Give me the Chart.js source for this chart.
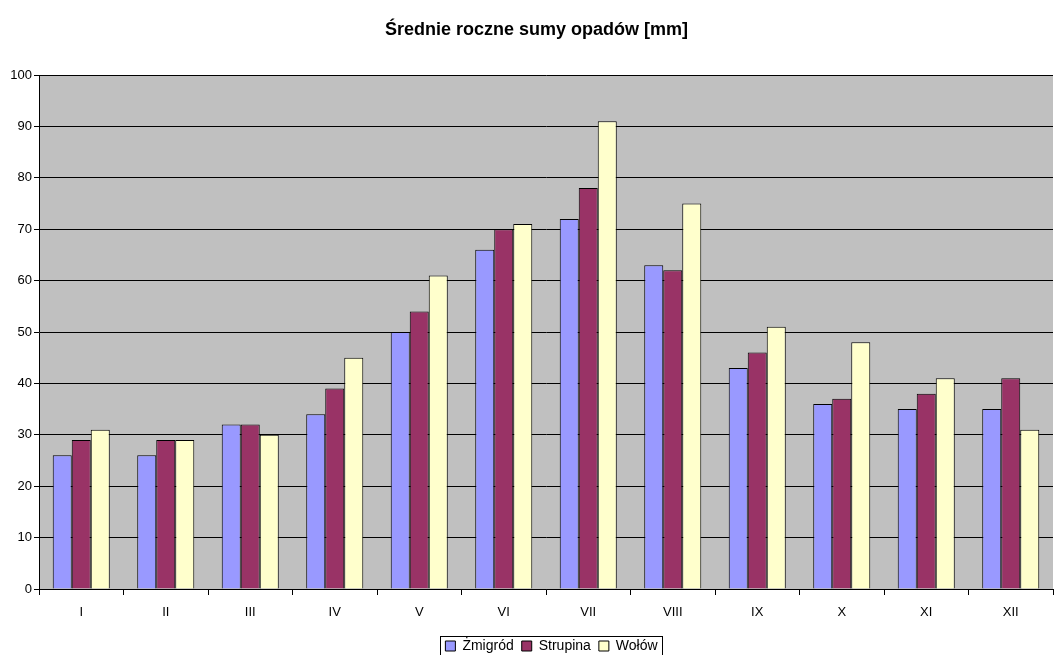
<!DOCTYPE html>
<html>
<head>
<meta charset="utf-8">
<script src="https://cdn.jsdelivr.net/npm/chart.js@4.4.1/dist/chart.umd.min.js"></script>
<style>
  html, body { margin: 0; padding: 0; background: #ffffff; }
  #wrap { width: 1054px; height: 655px; }
</style>
</head>
<body>
<div id="wrap"><canvas id="c" width="1054" height="655"></canvas></div>
<script>
const categories = ['I','II','III','IV','V','VI','VII','VIII','IX','X','XI','XII'];
const zmigrod  = [26, 26, 32, 34, 50, 66, 72, 63, 43, 36, 35, 35];
const strupina = [29, 29, 32, 39, 54, 70, 78, 62, 46, 37, 38, 41];
const wolow    = [31, 29, 30, 45, 61, 71, 91, 75, 51, 48, 41, 31];
const seriesNames = ['Żmigród', 'Strupina', 'Wołów'];
const titleText = 'Średnie roczne sumy opadów [mm]';

const LEGEND_SHIFT = 25;
const TITLE_SHIFT = 10;

const plotBg = {
  id: 'plotBg',
  afterLayout(chart) {
    const lg = chart.legend;
    if (lg) { lg.left += LEGEND_SHIFT; lg.right += LEGEND_SHIFT; }
    const tt = chart.titleBlock;
    if (tt) { tt.left += TITLE_SHIFT; tt.right += TITLE_SHIFT; }
  },
  beforeDraw(chart) {
    const a = chart.chartArea, ctx = chart.ctx;
    ctx.save();
    ctx.fillStyle = '#C0C0C0';
    ctx.fillRect(a.left, a.top, a.right - a.left, a.bottom - a.top);
    ctx.restore();
  },
  afterDraw(chart) {
    const lg = chart.legend;
    if (!lg || !lg.legendHitBoxes || !lg.legendHitBoxes.length) return;
    const hb = lg.legendHitBoxes;
    const first = hb[0], last = hb[hb.length - 1];
    const ctx = chart.ctx;
    ctx.save();
    ctx.strokeStyle = '#000';
    ctx.lineWidth = 1;
    const x0 = Math.round(first.left - 5) + 0.5;
    const x1 = Math.round(last.left + last.width + 4) + 0.5;
    const y0 = Math.round(first.top - 3) + 0.5;
    const y1 = Math.round(first.top + first.height + 3) + 0.5;
    ctx.strokeRect(x0, y0, x1 - x0, y1 - y0);
    ctx.restore();
  }
};

new Chart(document.getElementById('c'), {
  type: 'bar',
  data: {
    labels: categories,
    datasets: [
      { label: seriesNames[0], data: zmigrod,  backgroundColor: '#9999FF', borderColor: '#000', borderWidth: 1 },
      { label: seriesNames[1], data: strupina, backgroundColor: '#993366', borderColor: '#000', borderWidth: 1 },
      { label: seriesNames[2], data: wolow,    backgroundColor: '#FFFFCC', borderColor: '#000', borderWidth: 1 }
    ]
  },
  options: {
    responsive: false,
    animation: false,
    layout: { padding: { left: 0, right: 1, top: 0, bottom: 0 } },
    datasets: { bar: { categoryPercentage: 0.675, barPercentage: 1.0 } },
    plugins: {
      title: {
        display: true,
        text: titleText,
        color: '#000',
        font: { family: 'Liberation Sans, Arial, sans-serif', size: 18, weight: 'bold' },
        padding: { top: 19, bottom: 34.4 }
      },
      legend: {
        display: true,
        position: 'bottom',
        maxHeight: 24,
        labels: {
          color: '#000',
          font: { family: 'Liberation Sans, Arial, sans-serif', size: 14 },
          boxWidth: 10,
          boxHeight: 10,
          padding: 8,
          useBorderRadius: false
        }
      },
      tooltip: { enabled: false }
    },
    scales: {
      x: {
        grid: { offset: true, drawOnChartArea: false, drawTicks: true, tickLength: 6, color: '#000' },
        border: { display: true, color: '#000', width: 1 },
        ticks: { color: '#000', font: { family: 'Liberation Sans, Arial, sans-serif', size: 13 }, padding: 10 },
        afterFit(s) { s.height = 42; }
      },
      y: {
        min: 0, max: 100,
        ticks: { stepSize: 10, color: '#000', font: { family: 'Liberation Sans, Arial, sans-serif', size: 13 }, padding: 2 },
        grid: { color: '#000', lineWidth: 1, tickLength: 5, drawTicks: true },
        border: { display: true, color: '#000', width: 1 },
        afterFit(s) { s.width = 39; }
      }
    }
  },
  plugins: [plotBg]
});
</script>
</body>
</html>
